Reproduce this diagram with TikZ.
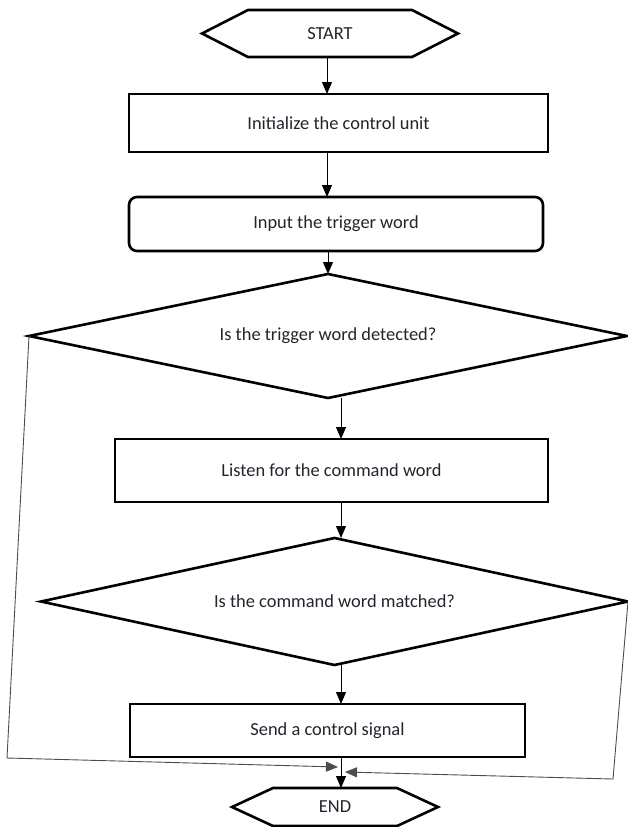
\documentclass[tikz,border=0pt]{standalone}
\usepackage{fontspec}
\setmainfont{Carlito}
\usetikzlibrary{shapes.geometric,arrows.meta}
\definecolor{inkgray}{RGB}{35,35,45}

\begin{document}
\begin{tikzpicture}[x=1pt, y=-1pt,
                every node/.style = {font=\fontsize{18.4}{22}\selectfont, text=inkgray, outer sep=0pt},
                box/.style = {draw, line width=2.6pt},
                decision/.style = {draw, diamond, shape aspect=4.8, inner sep=0pt, line width=2.6pt},
                hexline/.style = {line width=2.6pt, line join=miter},
                flow/.style = {line width=1pt, -{Triangle[length=12pt, width=10pt]}},
                feedback/.style = {line width=0.9pt, draw=black!70, -{Triangle[length=12pt, width=10pt]}}
            ]
            \useasboundingbox (0,0) rectangle (628,827);
            \node[minimum width=256pt, minimum height=47pt] (start) at (330,33.5) {START};
            \node[box, minimum width=419pt, minimum height=58pt] (init) at (338.5,123) {Initialize the control unit};
            \node[box, rounded corners=8pt, minimum width=414pt, minimum height=54pt] (input) at (336,224) {Input the trigger word};
            \node[decision, minimum width=598pt, minimum height=124pt] (trigger) at (328,336) {Is the trigger word detected?};
            \node[box, minimum width=433pt, minimum height=63pt] (listen) at (331.5,470.5) {Listen for the command word};
            \node[decision, minimum width=587pt, minimum height=127pt] (match) at (334.5,601.5) {Is the command word matched?};
            \node[box, minimum width=395pt, minimum height=53pt] (send) at (327.5,730.5) {Send a control signal};
            \node[minimum width=206pt, minimum height=38pt] (end) at (335,807) {END};

            \foreach \n/\c in {start/46pt, end/41pt}
                \draw[hexline] (\n.west) -- ([xshift=\c]\n.north west) -- ([xshift=-\c]\n.north east)
                    -- (\n.east) -- ([xshift=-\c]\n.south east) -- ([xshift=\c]\n.south west) -- cycle;

            \coordinate (upper) at (327,0);
            \coordinate (lower) at (341,0);
            \coordinate (leftbend) at (7,758);
            \coordinate (lefttip) at (338,767);
            \coordinate (rightbend) at (613,779);
            \coordinate (righttip) at (345,772);

            \draw[flow] (start.south -| upper) -- (init.north -| upper);
            \draw[flow] (init.south -| upper) -- (input.north -| upper);
            \draw[flow] (input.south -| trigger.north) -- (trigger.north);
            \draw[flow] (trigger.south -| lower) -- (listen.north -| lower);
            \draw[flow] (listen.south -| lower) -- (match.north -| lower);
            \draw[flow] (match.south -| lower) -- (send.north -| lower);
            \draw[flow] (send.south -| lower) -- (end.north -| lower);

            \draw[feedback] (trigger.west) -- (leftbend) -- (lefttip);
            \draw[feedback] (match.east) -- (rightbend) -- (righttip);
        \end{tikzpicture}
\end{document}
